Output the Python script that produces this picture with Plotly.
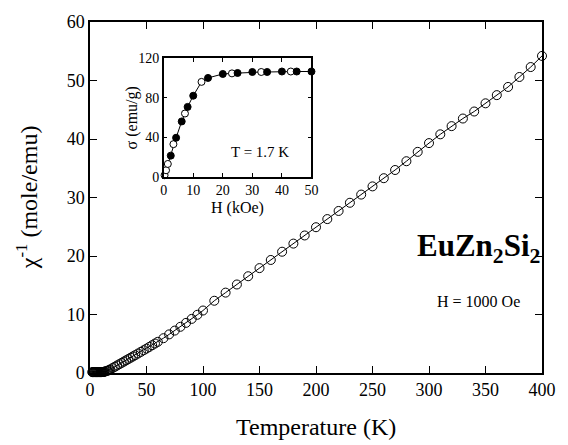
import plotly.graph_objects as go

# Main data: inverse susceptibility vs temperature (H = 1000 Oe)
temp_K = [2, 2.5, 3, 3.5, 4, 4.5, 5, 5.5, 6, 6.5, 7, 7.5, 8, 8.5, 9, 9.5, 10, 10.5, 11, 11.5, 12, 12.5, 13,
          14, 15, 16, 17, 18, 20, 22, 24, 26, 28, 30, 32, 34, 36, 38, 40, 42.5, 45, 47.5, 50, 52.5, 55, 57.5,
          60, 65, 70, 75, 80, 85, 90, 95, 100, 110, 120, 130, 140, 150, 160, 170, 180, 190, 200, 210, 220,
          230, 240, 250, 260, 270, 280, 290, 300, 310, 320, 330, 340, 350, 360, 370, 380, 390, 400]
chi_inv = [0.15, 0.15, 0.15, 0.15, 0.15, 0.15, 0.15, 0.15, 0.15, 0.15, 0.15, 0.15, 0.15, 0.15, 0.15, 0.15,
           0.15, 0.16, 0.17, 0.18, 0.19, 0.21, 0.24,
           0.3, 0.35, 0.42, 0.52, 0.62, 0.85, 1.07, 1.29, 1.51, 1.73, 1.95, 2.17, 2.39, 2.61, 2.83, 3.05,
           3.33, 3.61, 3.89, 4.17, 4.46, 4.75, 5.04,
           5.33, 5.95, 6.6, 7.25, 7.9, 8.57, 9.25, 9.95, 10.68, 12.35, 13.74, 15.13, 16.54, 17.93, 19.32,
           20.73, 22.12, 23.51, 24.92, 26.31, 27.7, 29.1, 30.5, 31.9, 33.3, 34.7, 36.2, 37.8, 39.3, 40.8,
           42.2, 43.5, 44.7, 46.1, 47.5, 48.9, 50.6, 52.3, 54.2]

# Inset data: magnetization vs field at T = 1.7 K
H_filled = [2.4, 4.2, 6.1, 8.1, 10, 15, 20, 25, 30, 35, 40, 45, 50]
sig_filled = [21.4, 39.5, 56, 70.7, 82, 100, 104, 105, 106, 106, 106.5, 106.5, 106.5]
H_open = [0.3, 0.8, 1.4, 3.3, 7.2, 12.8, 23.1, 33, 43]
sig_open = [1.6, 6.6, 13, 33, 64, 96, 104.6, 106, 106.5]

x_ticks = [0, 50, 100, 150, 200, 250, 300, 350, 400]
y_ticks = [0, 10, 20, 30, 40, 50, 60]
ins_x_ticks = [0, 10, 20, 30, 40, 50]
ins_y_ticks = [0, 40, 80, 120]

FONT = "Liberation Serif"

merged = sorted(zip(H_filled + H_open, sig_filled + sig_open))
H_all = [m[0] for m in merged]
sig_all = [m[1] for m in merged]

fig = go.Figure()
fig.add_trace(go.Scatter(
    x=temp_K, y=chi_inv, mode="lines+markers", cliponaxis=False,
    line=dict(color="black", width=1),
    marker=dict(symbol="circle-open", size=9, color="black", line=dict(width=1)),
    xaxis="x", yaxis="y", showlegend=False))

fig.add_trace(go.Scatter(
    x=H_all, y=sig_all, mode="lines", cliponaxis=False,
    line=dict(color="black", width=1), xaxis="x2", yaxis="y2", showlegend=False))
fig.add_trace(go.Scatter(
    x=H_open, y=sig_open, mode="markers", cliponaxis=False,
    marker=dict(symbol="circle", size=7, color="white", line=dict(color="black", width=1)),
    xaxis="x2", yaxis="y2", showlegend=False))
fig.add_trace(go.Scatter(
    x=H_filled, y=sig_filled, mode="markers", cliponaxis=False,
    marker=dict(symbol="circle", size=7, color="black", line=dict(color="black", width=1)),
    xaxis="x2", yaxis="y2", showlegend=False))

axis_common = dict(showline=True, linecolor="black", linewidth=1.5, mirror="ticks",
                   ticks="inside", tickcolor="black", showgrid=False, zeroline=False)

fig.update_layout(
    width=568, height=445,
    margin=dict(l=90, r=19, t=15, b=72),
    paper_bgcolor="white", plot_bgcolor="white",
    font=dict(family=FONT, color="black"),
    xaxis=dict(range=[0, 400], tickvals=x_ticks, ticklen=7, tickwidth=1.2,
               tickfont=dict(size=18, family=FONT), domain=[0, 1], **axis_common),
    yaxis=dict(range=[0, 60], tickvals=y_ticks, ticklen=7, tickwidth=1.2,
               tickfont=dict(size=18, family=FONT), domain=[0, 1], **axis_common),
    xaxis2=dict(range=[0, 50], tickvals=ins_x_ticks, ticklen=4, tickwidth=1,
                tickfont=dict(size=14, family=FONT), domain=[0.163, 0.490], anchor="y2", **axis_common),
    yaxis2=dict(range=[0, 120], tickvals=ins_y_ticks, ticklen=4, tickwidth=1,
                tickfont=dict(size=14, family=FONT), domain=[0.559, 0.897], anchor="x2", **axis_common),
    annotations=[
        dict(text="Temperature (K)", x=0.5, y=-0.155, xref="paper", yref="paper",
             xanchor="center", yanchor="middle", showarrow=False, font=dict(size=24, family=FONT)),
        dict(text="χ<sup>-1</sup> (mole/emu)", x=-0.14, y=0.5, xref="paper", yref="paper",
             xanchor="center", yanchor="middle", textangle=-90, showarrow=False,
             font=dict(size=24, family=FONT)),
        dict(text="<b>EuZn<sub>2</sub>Si<sub>2</sub></b>", x=0.86, y=0.355, xref="paper", yref="paper",
             xanchor="center", yanchor="middle", showarrow=False, font=dict(size=31, family=FONT)),
        dict(text="H = 1000 Oe", x=0.86, y=0.205, xref="paper", yref="paper",
             xanchor="center", yanchor="middle", showarrow=False, font=dict(size=16, family=FONT)),
        dict(text="T = 1.7 K", x=0.375, y=0.631, xref="paper", yref="paper",
             xanchor="center", yanchor="middle", showarrow=False, font=dict(size=15, family=FONT)),
        dict(text="H (kOe)", x=0.3265, y=0.47, xref="paper", yref="paper",
             xanchor="center", yanchor="middle", showarrow=False, font=dict(size=16, family=FONT)),
        dict(text="σ (emu/g)", x=0.095, y=0.728, xref="paper", yref="paper",
             xanchor="center", yanchor="middle", textangle=-90, showarrow=False,
             font=dict(size=16, family=FONT)),
    ],
)

fig.write_html("out.html")
